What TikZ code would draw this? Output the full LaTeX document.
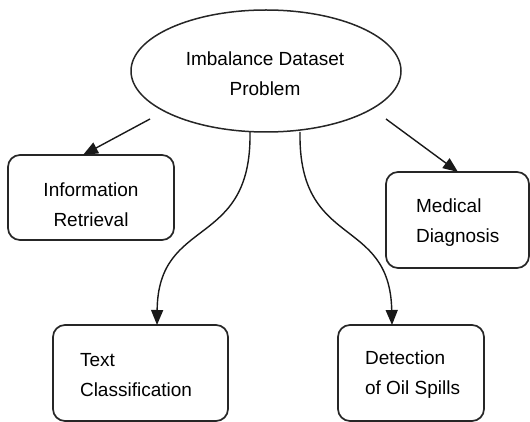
\documentclass[tikz,border=0pt]{standalone}
\usepackage{fontspec}
\setmainfont{Liberation Sans}
\usetikzlibrary{arrows.meta,shapes.geometric}
\begin{document}
\begin{tikzpicture}[x=1pt,y=-1pt,
  line width=1.4pt,
  every node/.style={font=\fontsize{19}{30}\selectfont},
  appbox/.style={draw=black!85,rounded corners=12pt,line width=1.7pt},
  link/.style={draw=black!90,line width=1.4pt,-{Triangle[length=15pt,width=12pt]}}]
  \useasboundingbox (0,0) rectangle (530,422);
  % central problem ellipse
  \node[ellipse,draw=black!85,line width=1.5pt,minimum width=270pt,minimum height=122pt] (core) at (266,71) {};
  \node[align=center] (coretxt) at (265,74) {Imbalance Dataset\\Problem};
  % application boxes
  \draw[appbox] (8,155) rectangle (174,240);
  \coordinate (ir) at (83,155);
  \node[align=center] (irtxt) at (91,205) {Information\\Retrieval};
  \draw[appbox] (386,172) rectangle (529,268);
  \coordinate (md) at (458,172);
  \node[align=left,anchor=west] (mdtxt) at (412,223) {Medical\\ Diagnosis};
  \draw[appbox] (53,325) rectangle (228,421);
  \coordinate (tc) at (157,325);
  \node[align=left,anchor=west] (tctxt) at (76,375) {Text\\ Classification};
  \draw[appbox] (338,325) rectangle (484,421);
  \coordinate (os) at (392,325);
  \node[align=left,anchor=west] (ostxt) at (361,375) {Detection\\of Oil Spills};
  % connectors
  \coordinate (c1) at (150,119);
  \coordinate (c2) at (386,119);
  \coordinate (c3) at (250,132);
  \coordinate (c4) at (300,132);
  \draw[link] (c1) -- (ir);
  \draw[link] (c2) -- (md);
  \draw[link] (c3) .. controls (252,250) and (158,215) .. (tc);
  \draw[link] (c4) .. controls (298,250) and (390,215) .. (os);
\end{tikzpicture}
\end{document}
